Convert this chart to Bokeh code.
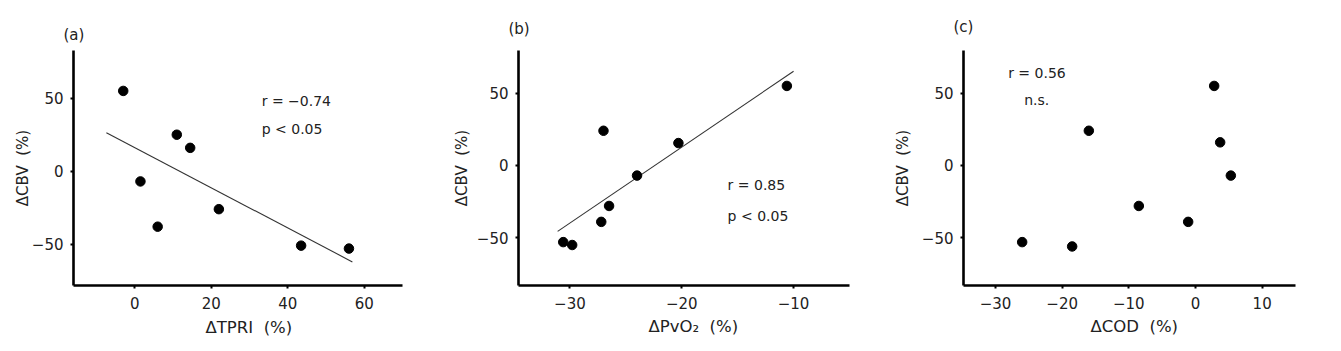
import numpy as np
from bokeh.plotting import figure
from bokeh.layouts import row
from bokeh.models import Label, FixedTicker, Range1d, Title
from bokeh.embed import file_html
from bokeh.resources import INLINE

# ---- data ----
cbv_a = [55, 25, 16, -7, -38, -26, -51, -53]
tpri = [-3, 11, 14.5, 1.5, 6, 22, 43.5, 56]

cbv_b = [55, 24, 15.5, -7, -28, -39, -53, -55]
pvo2 = [-10.6, -27, -20.3, -24, -26.5, -27.2, -30.6, -29.8]

cbv_c = [55, 24, 16, -7, -28, -39, -53, -56]
cod = [2.8, -16, 3.7, 5.3, -8.5, -1.1, -26, -18.5]

fit_a_span = [-7.4, 56.9]
fit_b_span = [-31.1, -10.0]

ticks_y = [-50, 0, 50]
ticks_a = [0, 20, 40, 60]
ticks_b = [-30, -20, -10]
ticks_c = [-30, -20, -10, 0, 10]

FONT = "DejaVu Sans"
TXT = "#222222"
TOP, BOTTOM = 50, 66


def make_panel(width, left, right, xr, yr, xticks, xs, ys, panel, letter_standoff,
               xlabel, xlab_offset, xlab_standoff, stats, ylab_standoff,
               fit_span=None):
    p = figure(width=width, height=351, output_backend="svg",
               toolbar_location=None, x_range=Range1d(*xr), y_range=Range1d(*yr),
               min_border_left=left, min_border_right=right,
               min_border_top=TOP, min_border_bottom=BOTTOM)
    p.outline_line_color = None
    p.xgrid.visible = False
    p.ygrid.visible = False
    for ax, t in ((p.xaxis[0], xticks), (p.yaxis[0], ticks_y)):
        ax.ticker = FixedTicker(ticks=t)
        ax.axis_line_width = 2.6
        ax.axis_line_color = "black"
        ax.major_tick_out = 3
        ax.major_tick_in = 0
        ax.major_tick_line_width = 2
        ax.minor_tick_line_color = None
        ax.major_label_text_font = FONT
        ax.major_label_text_font_size = "15px"
        ax.major_label_text_color = TXT
        ax.major_label_overrides = {v: (("\u2212" + str(-v)) if v < 0 else str(v)) for v in t}
    p.xaxis.major_label_standoff = 8
    p.yaxis.major_label_standoff = 7
    p.yaxis.axis_label = "\u0394CBV\u00a0 (%)"
    p.yaxis.axis_label_standoff = ylab_standoff
    p.yaxis.axis_label_text_font = FONT
    p.yaxis.axis_label_text_font_size = "15px"
    p.yaxis.axis_label_text_font_style = "normal"
    p.yaxis.axis_label_text_color = TXT

    if fit_span is not None:
        k, b = np.polyfit(xs, ys, 1)
        fx = np.array(fit_span)
        p.line(fx, k * fx + b, line_color="#333333", line_width=1.1)
    p.scatter(xs, ys, size=9.5, color="black")

    # panel letter as title
    p.title.text = panel
    p.title.align = "left"
    p.title.offset = -10
    p.title.standoff = letter_standoff
    p.title.text_font = FONT
    p.title.text_font_size = "15px"
    p.title.text_font_style = "normal"
    p.title.text_color = TXT

    # x axis label as a title below
    p.add_layout(Title(text=xlabel, align="left", offset=xlab_offset,
                       standoff=xlab_standoff, text_font=FONT,
                       text_font_size="16.5px", text_font_style="normal",
                       text_color=TXT), "below")
    for (sx, sy, s) in stats:
        p.add_layout(Label(x=sx, y=sy, text=s, text_align="left",
                           text_baseline="middle", text_font=FONT,
                           text_font_size="14px", text_color=TXT))
    return p


pa = make_panel(440, 73, 38, (-16, 70), (-78.3, 82.7), ticks_a, tpri, cbv_a,
                "(a)", 14, "\u0394TPRI\u00a0 (%)", 132, 8,
                [(33.2, 48.4, "r = \u22120.74"), (33.2, 29.2, "p < 0.05")],
                -3, fit_a_span)
pb = make_panel(440, 78, 31, (-34.6, -5), (-83, 79.5), ticks_b, pvo2, cbv_b,
                "(b)", 26, "\u0394PvO\u2082\u00a0 (%)", 130, 6,
                [(-15.9, -13.8, "r = 0.85"), (-15.9, -34.6, "p < 0.05")],
                3, fit_b_span)
pc = make_panel(461, 83, 46, (-34.8, 15), (-83, 79.5), ticks_c, cod, cbv_c,
                "(c)", 29, "\u0394COD\u00a0 (%)", 127, 6,
                [(-28.1, 63.8, "r = 0.56"), (-25.7, 45.0, "n.s.")],
                7)

layout = row(pa, pb, pc, spacing=0)
open("out.html", "w").write(file_html(layout, INLINE))
